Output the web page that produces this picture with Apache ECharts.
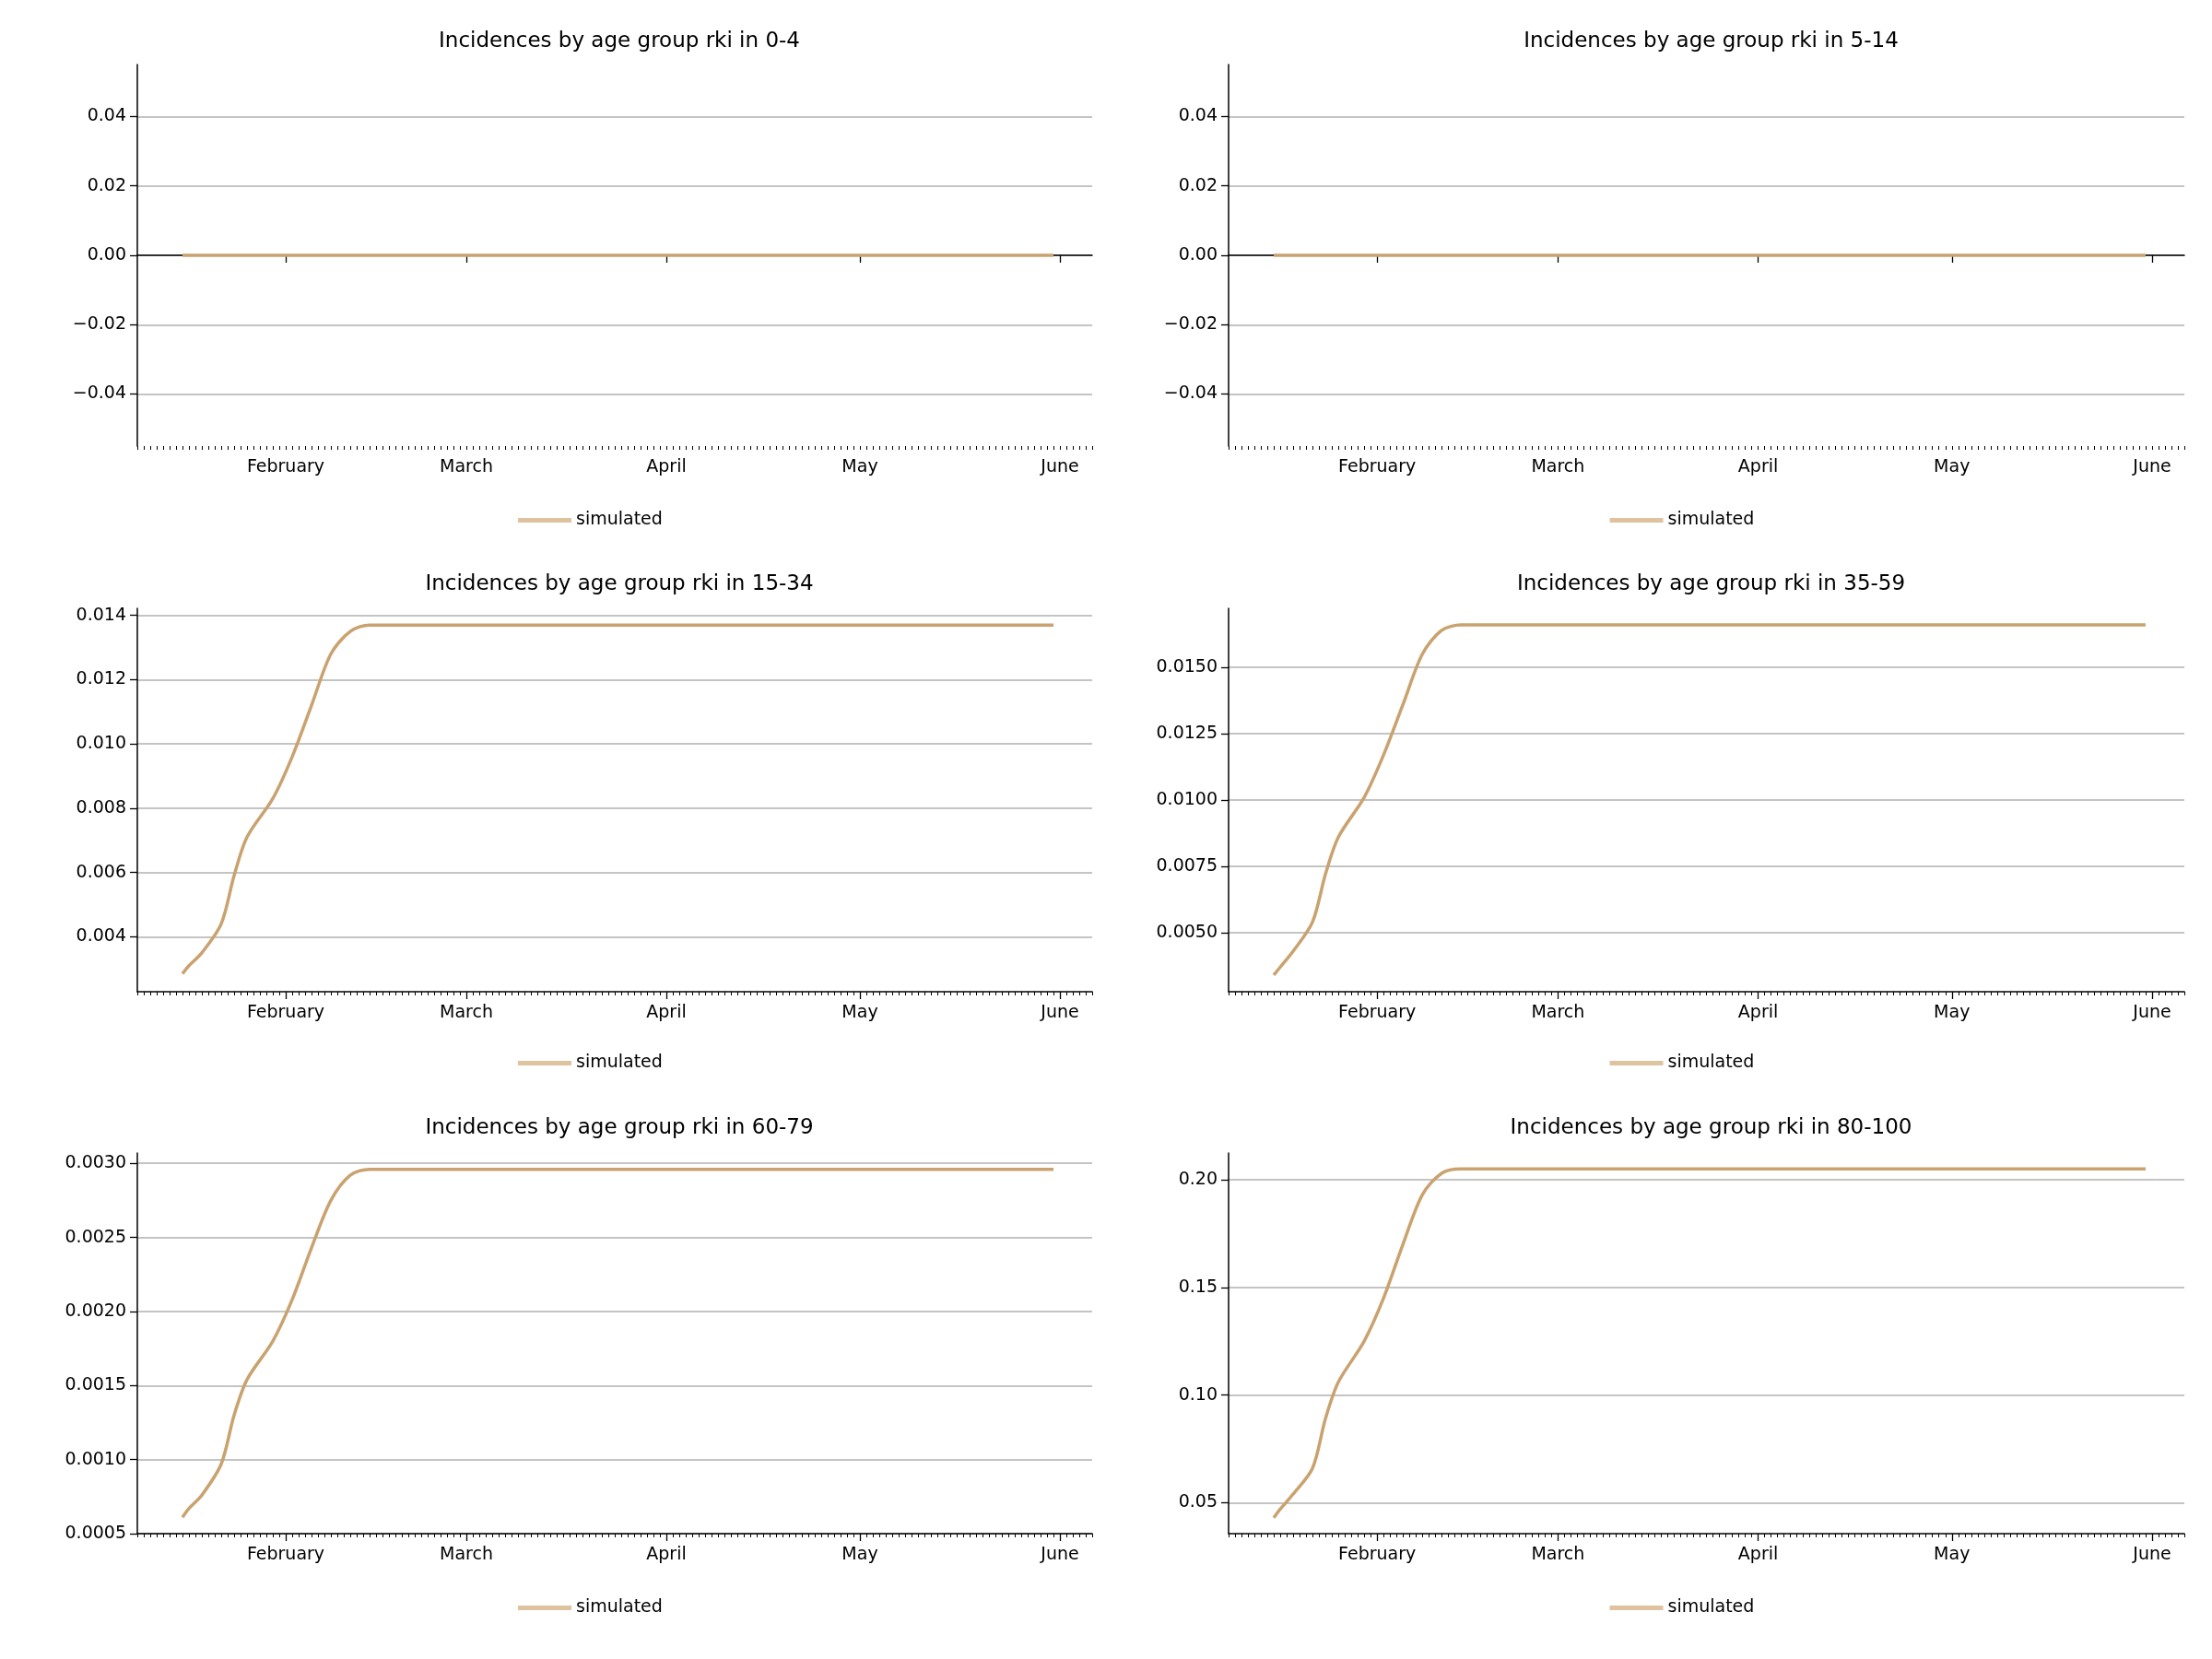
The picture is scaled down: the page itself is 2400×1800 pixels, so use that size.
<!DOCTYPE html>
<html><head><meta charset="utf-8">
<script src="https://cdn.jsdelivr.net/npm/echarts@6/dist/echarts.min.js"></script>
<style>html,body{margin:0;background:#fff}#c{width:2400px;height:1800px}</style>
</head><body><div id="c"></div>
<script>
var dates = ['2021-01-16','2021-01-17','2021-01-19','2021-01-22','2021-01-24','2021-01-26','2021-01-30',
             '2021-02-02','2021-02-05','2021-02-08','2021-02-11','2021-02-14','2021-05-31'];
var groups = ['0-4', '5-14', '15-34', '35-59', '60-79', '80-100'];
var v0_4   = [0,0,0,0,0,0,0,0,0,0,0,0,0];
var v5_14  = [0,0,0,0,0,0,0,0,0,0,0,0,0];
var v15_34 = [0.00285,0.0031,0.0035,0.0044,0.0059,0.0071,0.0083,0.0096,0.0112,0.0128,0.0135,0.0137,0.0137];
var v35_59 = [0.0034,0.0037,0.0043,0.0054,0.0072,0.0086,0.0101,0.0117,0.0136,0.0155,0.0164,0.0166,0.0166];
var v60_79 = [0.00061,0.00067,0.00076,0.00097,0.0013,0.00154,0.0018,0.00208,0.00243,0.00275,0.00292,0.00296,0.00296];
var v80_100 = [0.043,0.047,0.054,0.066,0.089,0.106,0.125,0.145,0.17,0.193,0.203,0.205,0.205];
var values = [v0_4, v5_14, v15_34, v35_59, v60_79, v80_100];
var yTicks = [
  [-0.04,-0.02,0,0.02,0.04],
  [-0.04,-0.02,0,0.02,0.04],
  [0.004,0.006,0.008,0.010,0.012,0.014],
  [0.005,0.0075,0.01,0.0125,0.015],
  [0.0005,0.001,0.0015,0.002,0.0025,0.003],
  [0.05,0.10,0.15,0.20]
];
var yRange = [[-0.055,0.055],[-0.055,0.055],[0.00229,0.01422],[0.00277,0.01723],[0.0005,0.00307],[0.0356,0.2124]];
var yDigits = [2,2,3,4,4,2];
var monthTicks = ['2021-02-01','2021-03-01','2021-04-01','2021-05-01','2021-06-01'];
var monthNames = ['January','February','March','April','May','June','July'];

var font = 'DejaVu Sans';
var lineColor = '#c9a26f';
var cols = [[149,1185],[1333,2370]];
var rows = [[70,484,43,562],[660,1076,632,1151],[1251,1664,1222,1742]];
function ts(d) { return Date.parse(d + 'T00:00:00Z'); }
var xMin = ts('2021-01-09'), xMax = ts('2021-06-06');
var mticks = monthTicks.map(ts);
var dticks = [];
for (var t = xMin; t <= xMax; t += 86400000) dticks.push(t);

var option = {backgroundColor:'#fff', animation:false, grid:[], xAxis:[], yAxis:[], series:[], title:[], legend:[]};
groups.forEach(function (g, i) {
  var c = cols[i % 2], r = rows[Math.floor(i / 2)];
  option.grid.push({left:c[0], width:c[1]-c[0], top:r[0], height:r[1]-r[0]});
  option.title.push({text:'Incidences by age group rki in ' + g, left:(c[0]+c[1])/2, top:r[2]-14, textAlign:'center',
    textStyle:{fontFamily:font, fontSize:23, fontWeight:'normal', color:'#000'}});
  option.xAxis.push({type:'value', gridIndex:i, min:xMin, max:xMax,
    axisLine:{lineStyle:{color:'#000', width:1.5}},
    axisTick:{customValues:mticks, length:8, lineStyle:{color:'#000', width:1.3}},
    axisLabel:{customValues:mticks, color:'#000', fontFamily:font, fontSize:19, margin:14,
      formatter:function (v) { return monthNames[new Date(v).getUTCMonth()]; }},
    splitLine:{show:false}});
  // daily minor ticks
  option.xAxis.push({type:'value', gridIndex:i, min:xMin, max:xMax, position:'bottom',
    axisLine:{show:false},
    axisTick:{customValues:dticks, length:4, lineStyle:{color:'#000', width:1}},
    axisLabel:{show:false}, splitLine:{show:false}});
  var yt = yTicks[i], dg = yDigits[i];
  option.yAxis.push({type:'value', gridIndex:i, min:yRange[i][0], max:yRange[i][1],
    axisLine:{show:true, lineStyle:{color:'#000', width:1.5}},
    axisTick:{show:true, customValues:yt, length:8, lineStyle:{color:'#000', width:1.3}},
    axisLabel:{customValues:yt, color:'#000', fontFamily:font, fontSize:19, margin:12,
      formatter:function (v) { return (v < 0 ? '\u2212' : '') + Math.abs(v).toFixed(dg); }},
    splitLine:{show:true, lineStyle:{color:'#b0b0b0', width:1.5}}});
  option.series.push({type:'line', name:'simulated', xAxisIndex:2 * i, yAxisIndex:i, showSymbol:false, smooth:0.3,
    data:dates.map(function (d, k) { return [ts(d), values[i][k]]; }),
    lineStyle:{color:lineColor, width:3.5}, itemStyle:{color:lineColor}});
  option.legend.push({data:[{name:'simulated', icon:'rect'}], left:(c[0]+c[1])/2 - 110, top:r[3]-12,
    itemWidth:58, itemHeight:5, itemGap:20, textStyle:{fontFamily:font, fontSize:19, color:'#000'},
    itemStyle:{color:'#dfc39e'}});
});
var chart = echarts.init(document.getElementById('c'));
chart.setOption(option);
</script></body></html>
